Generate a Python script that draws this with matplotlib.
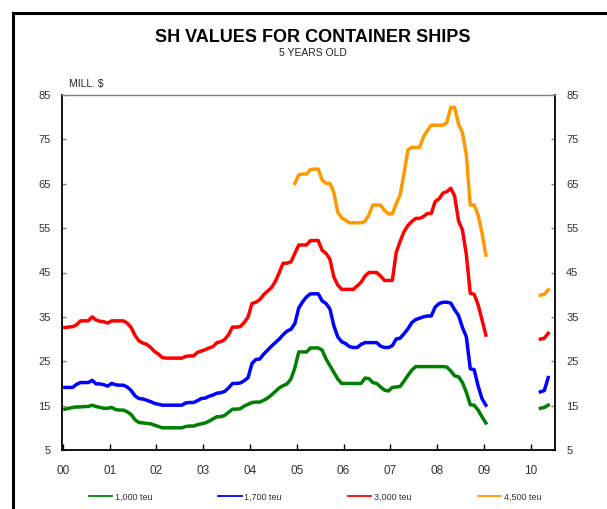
import numpy as np
import matplotlib.pyplot as plt
from matplotlib.lines import Line2D

plt.rcParams['font.family'] = ['Liberation Sans', 'DejaVu Sans']

# monthly values, Jan 2000 .. Jan 2009 (month index 0..108), mill. $
months = np.arange(109)
green = [14.2, 14.4, 14.6, 14.7, 14.7, 14.8, 14.8, 15.1, 14.8, 14.6, 14.4, 14.4,
         14.6, 14.1, 14.0, 14.0, 13.6, 13.0, 11.8, 11.2, 11.1, 11.0, 10.9, 10.6,
         10.3, 10.0, 10.0, 10.0, 10.0, 10.0, 10.0, 10.3, 10.4, 10.4, 10.7, 10.9,
         11.1, 11.5, 12.0, 12.5, 12.5, 12.8, 13.5, 14.2, 14.2, 14.3, 14.9, 15.3,
         15.7, 15.8, 15.8, 16.2, 16.7, 17.4, 18.2, 19.0, 19.5, 19.9, 21.0, 23.5,
         27.1, 27.1, 27.1, 28.0, 28.0, 28.0, 27.5, 25.5, 24.0, 22.5, 21.0, 20.0,
         20.0, 20.0, 20.0, 20.0, 20.0, 21.2, 21.1, 20.2, 20.0, 19.2, 18.5, 18.3,
         19.1, 19.2, 19.3, 20.5, 21.8, 23.0, 23.8, 23.8, 23.8, 23.8, 23.8, 23.8,
         23.8, 23.8, 23.7, 22.8, 21.7, 21.5, 20.2, 18.0, 15.2, 15.1, 14.0, 12.5,
         11.1]
blue = [19.1, 19.1, 19.1, 19.8, 20.2, 20.2, 20.2, 20.7, 19.9, 19.9, 19.7, 19.4,
        20.0, 19.7, 19.6, 19.6, 19.2, 18.4, 17.2, 16.6, 16.5, 16.2, 15.9, 15.5,
        15.3, 15.1, 15.1, 15.1, 15.1, 15.1, 15.1, 15.6, 15.7, 15.7, 16.1, 16.6,
        16.7, 17.1, 17.4, 17.8, 17.9, 18.2, 19.0, 20.0, 20.0, 20.1, 20.6, 21.3,
        24.5, 25.4, 25.5, 26.6, 27.5, 28.4, 29.2, 30.0, 31.0, 31.8, 32.2, 33.5,
        37.0, 38.4, 39.5, 40.2, 40.2, 40.2, 38.6, 38.0, 36.8, 33.0, 30.5, 29.4,
        29.0, 28.3, 28.1, 28.1, 28.8, 29.2, 29.2, 29.2, 29.2, 28.4, 28.1, 28.1,
        28.5, 30.0, 30.2, 31.2, 32.3, 33.7, 34.4, 34.7, 35.0, 35.2, 35.2, 37.2,
        38.0, 38.3, 38.3, 38.1, 36.6, 35.3, 32.6, 30.5, 23.3, 23.1, 19.5, 16.6,
        15.1]
red = [32.6, 32.7, 32.8, 33.2, 34.1, 34.1, 34.1, 35.0, 34.3, 34.0, 33.9, 33.6,
       34.1, 34.1, 34.1, 34.1, 33.6, 32.6, 30.8, 29.6, 29.1, 28.8, 28.1, 27.2,
       26.6, 25.8, 25.7, 25.7, 25.7, 25.7, 25.7, 26.1, 26.2, 26.2, 27.0, 27.3,
       27.6, 28.0, 28.3, 29.2, 29.4, 29.9, 31.0, 32.7, 32.7, 32.8, 33.7, 35.0,
       38.0, 38.3, 38.9, 40.0, 40.8, 41.6, 43.0, 45.0, 47.1, 47.1, 47.4, 49.3,
       51.2, 51.2, 51.2, 52.2, 52.2, 52.2, 50.0, 49.3, 48.0, 44.0, 42.2, 41.2,
       41.2, 41.2, 41.2, 42.0, 42.8, 44.2, 45.0, 45.0, 45.0, 44.2, 43.2, 43.2,
       43.2, 49.5, 52.0, 54.2, 55.6, 56.5, 57.2, 57.2, 57.6, 58.3, 58.3, 61.0,
       61.6, 62.9, 63.2, 64.0, 62.2, 56.6, 54.6, 49.0, 40.3, 40.1, 37.8, 34.4,
       30.9]
# 4,500 teu series starts Dec 2004 (month 59)
orange_months = np.arange(59, 109)
orange = [65.1,
          67.0, 67.2, 67.2, 68.2, 68.3, 68.3, 65.8, 65.1, 65.1, 63.0, 58.6, 57.3,
          56.8, 56.2, 56.2, 56.2, 56.2, 56.5, 58.0, 60.2, 60.2, 60.2, 59.0, 58.2,
          58.2, 60.5, 62.5, 67.3, 72.6, 73.2, 73.2, 73.2, 75.6, 77.0, 78.2, 78.2,
          78.2, 78.2, 78.8, 82.2, 82.2, 78.4, 76.5, 71.5, 60.2, 60.2, 58.0, 54.0,
          48.9]

# Mar-May 2010
months_2010 = [122, 123, 124]
green_2010 = [14.4, 14.6, 15.1]
blue_2010 = [18.1, 18.4, 21.3]
red_2010 = [30.0, 30.2, 31.3]
orange_2010 = [39.9, 40.1, 41.1]

year_labels = ['00', '01', '02', '03', '04', '05', '06', '07', '08', '09', '10']
series_labels = ['1,000 teu', '1,700 teu', '3,000 teu', '4,500 teu']
colors = ['#008000', '#0000FF', '#FF0000', '#FF9900']


def to_years(m):
    return (np.asarray(m) + 0.5) / 12.0


fig = plt.figure(figsize=(6.07, 5.09), dpi=100)
ax = fig.add_axes([62 / 607, 1 - 450 / 509, (555 - 62) / 607, 355 / 509])

lw = 2.5
ax.plot(to_years(months), green, color=colors[0], lw=lw, solid_joinstyle='round')
ax.plot(to_years(months), blue, color=colors[1], lw=lw, solid_joinstyle='round')
ax.plot(to_years(months), red, color=colors[2], lw=lw, solid_joinstyle='round')
ax.plot(to_years(orange_months), orange, color=colors[3], lw=lw, solid_joinstyle='round')
ax.plot(to_years(months_2010), green_2010, color=colors[0], lw=lw)
ax.plot(to_years(months_2010), blue_2010, color=colors[1], lw=lw)
ax.plot(to_years(months_2010), red_2010, color=colors[2], lw=lw)
ax.plot(to_years(months_2010), orange_2010, color=colors[3], lw=lw)

ax.set_xlim(-0.02, 10.52)
ax.set_ylim(5, 85)
ax.set_xticks(range(len(year_labels)))
ax.set_xticklabels(year_labels)
ax.set_yticks(range(5, 86, 10))

ax.tick_params(axis='x', direction='in', length=4, width=1, color='black',
               labelsize=8.5, labelcolor='#333333', pad=10.5)
ax.tick_params(axis='y', direction='in', length=3, width=1, color='#808080',
               left=True, right=True, labelleft=True, labelright=True,
               labelsize=8, labelcolor='#333333', pad=8)

for side in ['left', 'bottom', 'right']:
    ax.spines[side].set_color('black')
    ax.spines[side].set_linewidth(1.3)
ax.spines['top'].set_color('#808080')
ax.spines['top'].set_linewidth(1.0)

fig.text(313 / 607, 1 - 38 / 509, 'SH VALUES FOR CONTAINER SHIPS',
         ha='center', va='center', fontsize=13, fontweight='bold')
fig.text(313 / 607, 1 - 53.5 / 509, '5 YEARS OLD',
         ha='center', va='center', fontsize=7.5, color='#222222')
fig.text(69 / 607, 1 - 84 / 509, 'MILL. $', ha='left', va='center',
         fontsize=7.5, color='#222222')

# outer frame (left and top edges visible)
fig.add_artist(Line2D([13 / 607, 13 / 607], [0, 1 - 13 / 509],
                      transform=fig.transFigure, color='black', lw=2.2))
fig.add_artist(Line2D([13 / 607, 1], [1 - 13 / 509, 1 - 13 / 509],
                      transform=fig.transFigure, color='black', lw=2.2))

handles = [Line2D([], [], color=c, lw=1.3) for c in colors]
fig.legend(handles, series_labels, loc='center', bbox_to_anchor=(315 / 607, 1 - 497 / 509),
           ncol=4, frameon=False, fontsize=6.5, handlelength=2.6, handletextpad=0.3,
           columnspacing=7.3, labelcolor='#333333')

fig.savefig('out.png', dpi=100)
